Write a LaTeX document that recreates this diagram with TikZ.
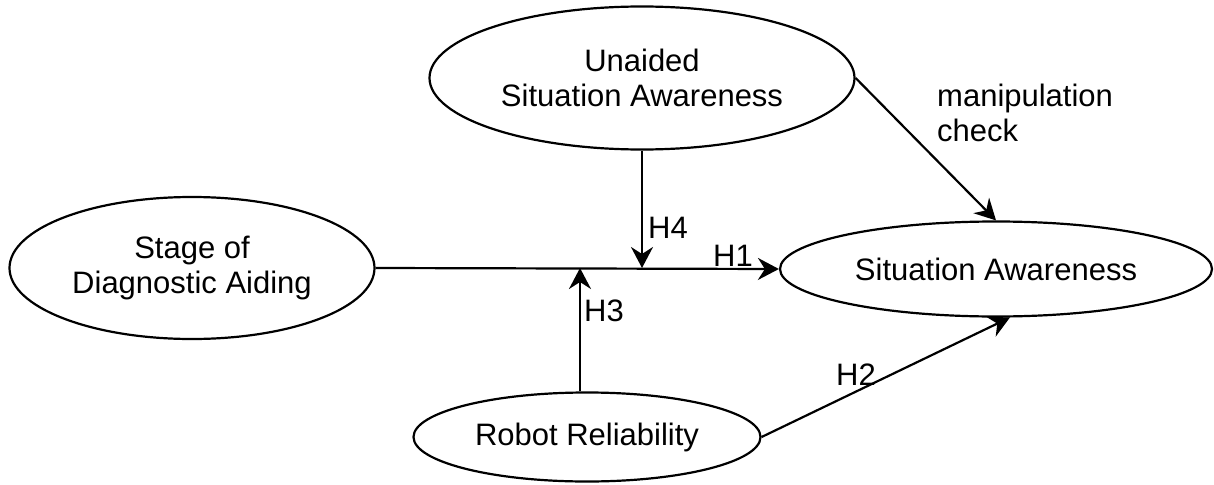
\documentclass[tikz,border=0pt]{standalone}
\usepackage{fontspec}
\setmainfont{Liberation Sans}
\usetikzlibrary{shapes.geometric,arrows.meta}
\begin{document}
\begin{tikzpicture}[x=1pt,y=-1pt,
  every node/.style={font=\fontsize{31}{35}\selectfont, inner sep=0pt},
  construct/.style={ellipse, draw, line width=2.2pt, align=center},
  link/.style={line width=2.2pt, -{Stealth[length=21pt,width=22pt,inset=7pt]}},
  plain/.style={line width=2.2pt},
  hlabel/.style={}]
  \useasboundingbox (0,0) rectangle (1214,484);

  % constructs
  \node[construct, minimum width=365pt, minimum height=142pt] (stage) at (192,268)
    {Stage of\\Diagnostic Aiding};
  \node[construct, minimum width=425pt, minimum height=143pt] (ua) at (642,78)
    {Unaided\\Situation Awareness};
  \node[construct, minimum width=432pt, minimum height=95pt] (sa) at (996,269)
    {Situation Awareness};
  \node[construct, minimum width=347pt, minimum height=89pt] (rr) at (587,437)
    {Robot Reliability};

  % points where the moderators meet the main path
  \coordinate (m4) at (642,268);
  \coordinate (m3) at (580,268);

  % main effect
  \draw[link] (stage.east) -- (sa.west);
  % moderators
  \draw[link] (ua.south) -- (m4);
  \draw[link] (rr.north -| m3) -- (m3);
  % direct effects
  \draw[link] (rr.east) -- (sa.-74);
  \draw[link] (ua.east) -- (sa.north);

  % labels
  \node[hlabel] (h1) at (733,256) {H1};
  \node[hlabel] (h2) at (856,375) {H2};
  \node[hlabel] (h3) at (604,311) {H3};
  \node[hlabel] (h4) at (668,228) {H4};
  \node[hlabel, anchor=west, align=left] (mc) at (937,113) {manipulation\\check};
\end{tikzpicture}
\end{document}
